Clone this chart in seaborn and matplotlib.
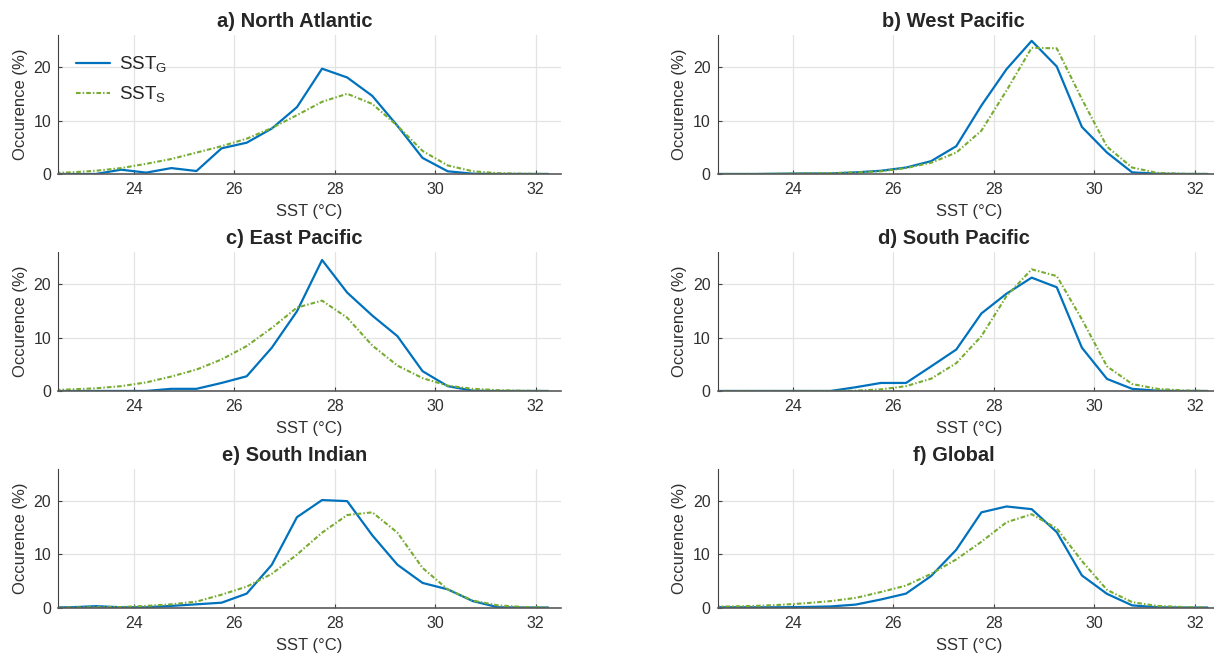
import numpy as np
import pandas as pd
import matplotlib.pyplot as plt
import seaborn as sns

# bin centres (degC); first point sits just left of the axis and gets clipped
sst = [22.25, 22.75, 23.25, 23.75, 24.25, 24.75, 25.25, 25.75, 26.25, 26.75, 27.25,
       27.75, 28.25, 28.75, 29.25, 29.75, 30.25, 30.75, 31.25, 31.75, 32.25]

titles = ['a) North Atlantic', 'b) West Pacific', 'c) East Pacific',
          'd) South Pacific', 'e) South Indian', 'f) Global']

na_g = [0, 0, 0, 0.8, 0.25, 1.1, 0.55, 4.8, 5.85, 8.5, 12.5, 19.7, 18.05, 14.6, 9.0, 3.0, 0.5, 0.05, 0, 0, 0]
na_s = [0.15, 0.3, 0.6, 1.1, 1.9, 2.8, 4.0, 5.2, 6.6, 8.6, 11.0, 13.5, 15.0, 13.1, 9.0, 4.3, 1.6, 0.5, 0.15, 0.05, 0]

wp_g = [0, 0, 0, 0.05, 0.1, 0.1, 0.3, 0.6, 1.2, 2.4, 5.2, 12.8, 19.6, 24.9, 20.1, 8.8, 4.0, 0.3, 0.05, 0, 0]
wp_s = [0, 0, 0, 0.05, 0.1, 0.15, 0.3, 0.5, 1.1, 2.1, 4.0, 8.1, 15.6, 23.6, 23.5, 14.0, 5.1, 1.2, 0.2, 0.05, 0]

ep_g = [0, 0, 0, 0, 0, 0.4, 0.4, 1.5, 2.75, 8.1, 14.9, 24.5, 18.4, 14.1, 10.25, 3.7, 0.9, 0.05, 0, 0, 0]
ep_s = [0.1, 0.3, 0.5, 0.9, 1.6, 2.7, 4.0, 5.9, 8.4, 11.8, 15.6, 16.9, 13.7, 8.5, 4.75, 2.4, 1.0, 0.4, 0.15, 0.05, 0]

sp_g = [0, 0, 0, 0, 0, 0, 0.7, 1.5, 1.5, 4.6, 7.75, 14.5, 18.2, 21.2, 19.4, 8.1, 2.25, 0.4, 0.05, 0, 0]
sp_s = [0, 0, 0, 0, 0, 0, 0.05, 0.3, 0.9, 2.3, 5.2, 10.25, 17.75, 22.75, 21.5, 13.4, 4.6, 1.3, 0.4, 0.1, 0]

si_g = [0, 0.05, 0.25, 0.05, 0.05, 0.3, 0.6, 0.9, 2.6, 8.0, 16.9, 20.1, 19.9, 13.5, 8.0, 4.6, 3.4, 1.2, 0.05, 0, 0]
si_s = [0, 0, 0.05, 0.1, 0.3, 0.6, 1.1, 2.4, 3.9, 6.3, 9.9, 14.0, 17.3, 17.8, 14.0, 7.4, 3.4, 1.3, 0.4, 0.1, 0]

gl_g = [0.05, 0.05, 0.05, 0.05, 0.1, 0.2, 0.55, 1.5, 2.6, 5.9, 10.8, 17.8, 18.9, 18.4, 14.1, 6.0, 2.55, 0.4, 0.05, 0, 0]
gl_s = [0.15, 0.2, 0.3, 0.5, 0.8, 1.2, 1.8, 2.9, 4.1, 6.3, 9.0, 12.3, 15.95, 17.45, 14.8, 8.7, 3.3, 1.0, 0.3, 0.1, 0]

series_g = [na_g, wp_g, ep_g, sp_g, si_g, gl_g]
series_s = [na_s, wp_s, ep_s, sp_s, si_s, gl_s]

sns.set_theme(style='whitegrid')
plt.rcParams['font.family'] = ['Liberation Sans', 'DejaVu Sans']
plt.rcParams['mathtext.fontset'] = 'custom'
plt.rcParams['mathtext.rm'] = 'Liberation Sans'

blue = '#0072BD'
green = '#77AC30'
axcol = '#404040'

fig = plt.figure(figsize=(12.14, 6.55), dpi=100)
lefts = [0.048, 0.5911]
bottoms = [0.7344, 0.4031, 0.0725]
w, h = 0.4139, 0.2122

for i in range(6):
    ax = fig.add_axes([lefts[i % 2], bottoms[i // 2], w, h])
    sns.lineplot(x=sst, y=series_g[i], ax=ax, color=blue, lw=1.6,
                 label='SST$_\\mathrm{G}$', legend=(i == 0))
    sns.lineplot(x=sst, y=series_s[i], ax=ax, color=green, lw=1.5,
                 linestyle=(0, (2.2, 1.0, 0.7, 1.0)),
                 label='SST$_\\mathrm{S}$', legend=(i == 0))
    ax.set_xlim(22.5, 32.5)
    ax.set_ylim(0, 26)
    ax.set_xticks([24, 26, 28, 30, 32])
    ax.set_yticks([0, 10, 20])
    ax.set_facecolor('white')
    ax.grid(True, color='#e3e3e3', lw=0.9)
    for s in ['top', 'right']:
        ax.spines[s].set_visible(False)
    ax.spines['left'].set_color(axcol)
    ax.spines['left'].set_linewidth(0.8)
    ax.spines['bottom'].set_color('#5a5a5a')
    ax.spines['bottom'].set_linewidth(1.2)
    ax.tick_params(direction='in', length=3, width=0.8, color=axcol,
                   labelsize=11.5, labelcolor='#303030', left=True, bottom=True)
    ax.tick_params(axis='x', pad=6)
    ax.tick_params(axis='y', pad=5)
    ax.set_xlabel('SST (°C)', fontsize=12, color='#303030', labelpad=5)
    ax.set_ylabel('Occurence (%)', fontsize=12, color='#303030', labelpad=4)
    ax.set_title(titles[i], fontsize=14.5, fontweight='bold', x=0.47, pad=5.5)
    if i == 0:
        ax.legend(loc='upper left', bbox_to_anchor=(0.01, 0.95), frameon=False,
                  fontsize=13.5, handlelength=1.8, handletextpad=0.45,
                  labelspacing=0.5, borderaxespad=0.3)

fig.savefig('out.png', dpi=100)
